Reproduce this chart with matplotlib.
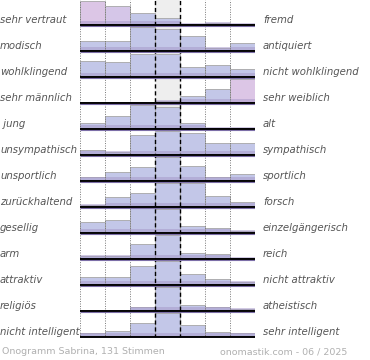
import numpy as np
import matplotlib
matplotlib.use("Agg")
import matplotlib.pyplot as plt

left_labels = ["sehr vertraut", "modisch", "wohlklingend", "sehr männlich", " jung",
               "unsympathisch", "unsportlich", "zurückhaltend", "gesellig", "arm",
               "attraktiv", "religiös", "nicht intelligent"]
right_labels = ["fremd", "antiquiert", "nicht wohlklingend", "sehr weiblich", "alt",
                "sympathisch", "sportlich", "forsch", "einzelgängerisch", "reich",
                "nicht attraktiv", "atheistisch", "sehr intelligent"]

# bar heights per row (7 steps), scale 0..25
heights = [
    [24, 19, 12, 7, 1, 2, 1],
    [10, 10, 24, 22, 15, 3, 8],
    [16, 15, 23, 23, 10, 12, 8],
    [0, 0, 0, 2, 7, 14, 24],
    [6, 13, 24, 22, 6, 1, 1],
    [5, 3, 20, 24, 22, 12, 12],
    [4, 9, 14, 24, 15, 4, 7],
    [2, 10, 14, 24, 24, 11, 5],
    [11, 13, 25, 24, 7, 5, 2],
    [3, 3, 15, 24, 6, 5, 1],
    [8, 8, 19, 24, 11, 6, 3],
    [0, 0, 4, 24, 6, 4, 2],
    [4, 6, 14, 24, 12, 5, 4],
]
# pink-ish bars (row, col)
pink = [(0, 0), (0, 1), (3, 6)]

footer_left = "Onogramm Sabrina, 131 Stimmen"
footer_right = "onomastik.com - 06 / 2025"

W, H = 370, 360
fig = plt.figure(figsize=(W / 100, H / 100), dpi=100)
fig.patch.set_facecolor("white")

n_rows = len(heights)
n_cols = 7
pitch = 26
ax = fig.add_axes([80 / W, 1 - n_rows * pitch / H, 175 / W, n_rows * pitch / H])
ax.set_xlim(0, n_cols)
ax.set_ylim(n_rows, 0)
ax.axis("off")

ax.axvspan(3, 4, color="#eeeeee", zorder=0)

scale = 25.0 / 0.96
for i, row in enumerate(heights):
    base = i + 0.96
    vals = np.array(row) / scale
    cols = ["#dcc6e6" if (i, j) in pink else "#c3c7e8" for j in range(n_cols)]
    if i == 0:
        cols[1] = "#d5c6e8"
    ax.bar(np.arange(n_cols) + 0.5, -vals, width=1.0, bottom=base, color=cols,
           edgecolor="#a6a6a6", linewidth=0.6, zorder=2)
    shade = np.minimum(vals, 0.1)
    ax.bar(np.arange(n_cols) + 0.5, -shade, width=1.0, bottom=base - 0.04, color="#a596c8",
           alpha=0.5, linewidth=0, zorder=3)
    ax.plot([0, n_cols], [base, base], color="black", lw=1.4, zorder=5,
            solid_capstyle="butt")
    ax.plot([0, n_cols], [base + 0.05, base + 0.05], color="#7d6fa8", lw=0.8, zorder=5,
            solid_capstyle="butt")

for x in [0, 1, 2, 5, 6, 7]:
    ax.axvline(x, color="#777777", lw=0.7, ls=(0, (1, 1.5)), zorder=4)
for x in [3, 4]:
    ax.axvline(x, color="black", lw=1.0, ls=(0, (3, 2)), zorder=4)

for i in range(n_rows):
    y = 1 - (i * pitch + 20) / H
    fig.text(0 / W, y, left_labels[i], ha="left", va="center", fontsize=7.3,
             style="italic", color="#555555")
    fig.text(263 / W, y, right_labels[i], ha="left", va="center", fontsize=7.3,
             style="italic", color="#555555")

fig.text(2 / W, 1 - 352 / H, footer_left, ha="left", va="center", fontsize=6.8,
         color="#b0b0b0")
fig.text(347 / W, 1 - 352 / H, footer_right, ha="right", va="center", fontsize=6.8,
         color="#b0b0b0")

fig.savefig("out.png", dpi=100)
